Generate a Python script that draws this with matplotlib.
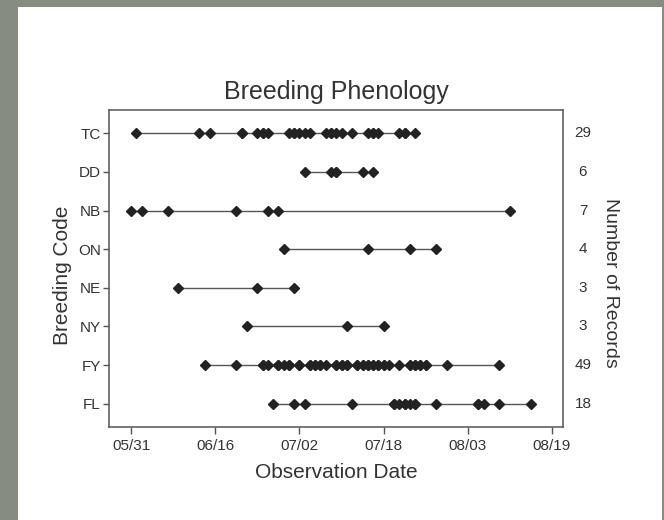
import pandas as pd
import matplotlib
matplotlib.use("Agg")
import matplotlib.pyplot as plt
import matplotlib.dates as mdates
from matplotlib.patches import Rectangle

YEAR = 2008

codes = ['TC', 'DD', 'NB', 'ON', 'NE', 'NY', 'FY', 'FL']

TC = ['06/01', '06/13', '06/15', '06/21', '06/21', '06/24', '06/25', '06/25', '06/26', '06/30',
      '07/01', '07/01', '07/02', '07/03', '07/04', '07/07', '07/08', '07/08', '07/09', '07/10',
      '07/12', '07/15', '07/16', '07/16', '07/17', '07/21', '07/22', '07/22', '07/24']
DD = ['07/03', '07/08', '07/09', '07/09', '07/14', '07/16']
NB = ['05/31', '06/02', '06/07', '06/20', '06/26', '06/28', '08/11']
ON = ['06/29', '07/15', '07/23', '07/28']
NE = ['06/09', '06/24', '07/01']
NY = ['06/22', '07/11', '07/18']
FY = ['06/14', '06/20', '06/25', '06/25', '06/26', '06/28', '06/28', '06/29', '06/30', '06/30',
      '07/02', '07/02', '07/04', '07/04', '07/05', '07/05', '07/06', '07/06', '07/07', '07/09',
      '07/09', '07/10', '07/10', '07/11', '07/11', '07/13', '07/13', '07/14', '07/14', '07/15',
      '07/15', '07/16', '07/16', '07/17', '07/17', '07/18', '07/18', '07/19', '07/21', '07/23',
      '07/23', '07/24', '07/24', '07/25', '07/25', '07/26', '07/26', '07/30', '08/09']
FL = ['06/27', '07/01', '07/03', '07/12', '07/20', '07/20', '07/21', '07/22', '07/22', '07/23',
      '07/24', '07/24', '07/28', '08/05', '08/05', '08/06', '08/09', '08/15']

records = [TC, DD, NB, ON, NE, NY, FY, FL]
tick_dates = ['05/31', '06/16', '07/02', '07/18', '08/03', '08/19']


def to_dates(mmdd):
    return pd.to_datetime([f"{YEAR}/{d}" for d in mmdd], format="%Y/%m/%d")


plt.rcParams['font.family'] = ['Liberation Sans', 'DejaVu Sans']
txt = '#333333'

fig = plt.figure(figsize=(6.64, 5.2), dpi=100)
fig.patch.set_facecolor('#868c7f')
# white slide area inside the photographed frame
fig.patches.append(Rectangle((18 / 664, 0), 644 / 664, 513 / 520, transform=fig.transFigure,
                             facecolor='white', edgecolor='none', zorder=-10))

ax = fig.add_axes([109 / 664, 1 - 427 / 520, 454 / 664, 317 / 520])
ax.set_facecolor('white')

for i, (code, rec) in enumerate(zip(codes, records)):
    d = to_dates(rec)
    ax.plot(d, [i] * len(d), '-', color='#555555', lw=1.0, zorder=2)
    ax.plot(d, [i] * len(d), 'D', color='#222222', ms=5, mec='#222222', zorder=3)
    ax.text(1.044, i, str(len(rec)), transform=ax.get_yaxis_transform(),
            ha='center', va='center', fontsize=11, color=txt)

ax.set_ylim(7.6, -0.6)
ax.set_yticks(range(len(codes)))
ax.set_yticklabels(codes)

t0 = pd.Timestamp(f"{YEAR}-05-31")
ax.set_xlim(t0 - pd.Timedelta(days=4.2), t0 + pd.Timedelta(days=82.1))
ax.set_xticks(to_dates(tick_dates))
ax.xaxis.set_major_formatter(mdates.DateFormatter('%m/%d'))

for s in ax.spines.values():
    s.set_color('#555555')
    s.set_linewidth(1.1)
ax.tick_params(axis='x', direction='out', length=5, width=1, color='#555555',
               labelsize=11, labelcolor=txt, pad=4)
ax.tick_params(axis='y', direction='out', length=4, width=1, color='#555555',
               labelsize=11, labelcolor=txt, pad=2)

fig.text(336 / 664, 1 - 92 / 520, 'Breeding Phenology', ha='center', va='center',
         fontsize=18, color=txt)
fig.text(336 / 664, 1 - 472 / 520, 'Observation Date', ha='center', va='center',
         fontsize=15, color=txt)
fig.text(62 / 664, 1 - 275 / 520, 'Breeding Code', ha='center', va='center',
         rotation=90, fontsize=15, color=txt)
fig.text(610 / 664, 1 - 283 / 520, 'Number of Records', ha='center', va='center',
         rotation=-90, fontsize=14, color=txt)

fig.savefig('out.png', dpi=100, facecolor=fig.get_facecolor())
